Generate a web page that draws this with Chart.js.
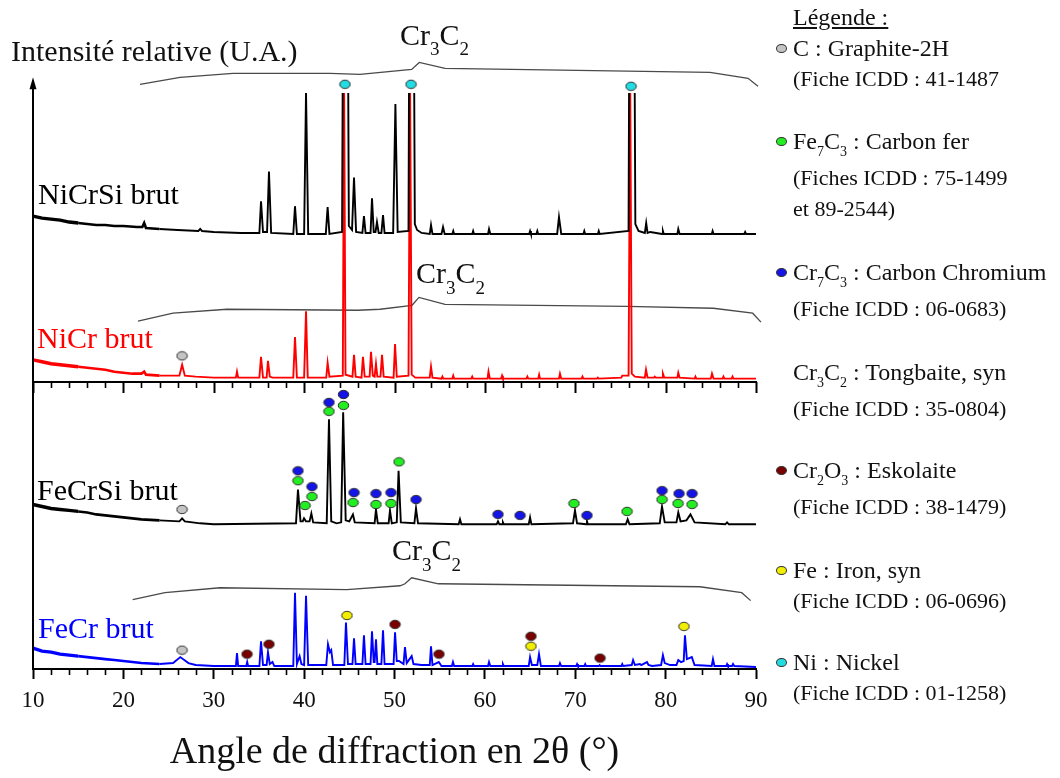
<!DOCTYPE html>
<html>
<head>
<meta charset="utf-8">
<script src="https://cdn.jsdelivr.net/npm/chart.js@4.4.1/dist/chart.umd.min.js"></script>
<style>
body{margin:0;background:#fff;}
#wrap{position:relative;width:1060px;height:778px;overflow:hidden;}
#legend{position:absolute;left:0;top:0;width:1060px;height:778px;pointer-events:none;font-family:"Liberation Serif",serif;color:#111;}
#legend .line{position:absolute;left:793px;white-space:nowrap;}
#legend sub{font-size:14px;vertical-align:-7px;line-height:0;}
#legend .dot{position:absolute;left:776px;width:9px;height:7px;border:1px solid #333;border-radius:50%;}
</style>
</head>
<body>
<div id="wrap">
<canvas id="xrd" width="1060" height="778"></canvas>
<div id="legend"></div>
</div>
<script>
// 2θ axis ticks
const majorTicks = [10, 20, 30, 40, 50, 60, 70, 80, 90];
const minorTicks = [12, 14, 16, 18, 22, 24, 26, 28, 32, 34, 36, 38, 42, 44, 46, 48, 52, 54, 56, 58,
                    62, 64, 66, 68, 72, 74, 76, 78, 82, 84, 86, 88];

// spectra: [2θ, intensity above own baseline] (U.A.)
const niCrSi = [[10,18],[11,16],[12,15],[13,14],[14,12],[15,11],[16,10],[17,9],[18,9],[19,8],[20,8],[21.5,7],[22.1,7],[22.3,11],[22.5,6],[24,5],[26,4],[28.3,3],[28.5,5],[28.7,3],[30,2],[33,1],
  [35.05,1],[35.23,33],[35.45,2],[35.9,2],[36.11,63],[36.35,1],
  [38.8,0],[38.99,28],[39.2,0],[40.0,0],[40.21,143],[40.45,0],
  [42.4,0],[42.6,27],[42.8,0],
  [44.2,2],[44.38,400],[44.75,400],[44.95,8],   // clipped in the figure
  [45.3,4],[45.52,57],[45.75,2],[46.45,1],[46.62,18],[46.8,1],
  [47.35,1],[47.51,36],[47.7,2],[47.9,2],[48.06,12],[48.25,1],[48.55,1],[48.73,19],[48.9,1],
  [49.85,1],[50.1,131],[50.35,2],
  [51.55,3],[51.7,400],[52.05,400],[52.25,10],[52.5,4],[53,1],   // clipped
  [53.9,0],[54.04,9],[54.2,0],[55.2,0],[55.37,7],[55.55,0],[56.4,0],[56.5,3],[56.6,0],
  [58.6,0],[58.7,3],[58.8,0],[60.35,0],[60.46,5],[60.6,0],
  [64.9,0],[65.0,3],[65.1,0],[65.7,0],[65.8,3],[65.9,0],[68.0,0],[68.2,17],[68.45,0],
  [70.9,0],[71.0,3],[71.1,0],[72.5,0],[72.6,3],[72.7,0],
  [75.9,3],[76.05,400],[76.45,400],[76.65,10],[77.0,3],   // clipped
  [77.7,1],[77.85,11],[78.0,1],[78.3,2],[79.6,0],[79.7,3],[79.8,0],[81.3,0],[81.4,5],[81.55,0],
  [85.1,0],[85.2,3],[85.3,0],[88.7,0],[88.8,2],[88.9,0],[90,0]];

const niCr = [[10,19],[11,17],[12,15],[13,14],[14,13],[15,12],[16,11],[17,10],[18,9],[19,7],[20,6],[21,5],[22,5],[22.3,7],[22.5,4],[24,3],[26.2,3],[26.5,14],[26.8,3],[28,2],[30,1],
  [32.45,1],[32.57,7],[32.7,1],
  [35.05,1],[35.23,22],[35.45,1],[35.85,1],[36.0,18],[36.2,2],[36.5,1],
  [38.8,1],[38.99,42],[39.2,1],[40.0,1],[40.21,68],[40.4,1],
  [42.45,1],[42.6,16],[42.8,2],
  [44.28,3],[44.42,300],[44.58,4],
  [45.35,2],[45.52,24],[45.7,2],[46.35,1],[46.51,22],[46.7,2],
  [47.25,2],[47.4,27],[47.6,3],[47.8,2],[47.95,15],[48.1,2],[48.45,2],[48.62,24],[48.8,2],
  [49.9,1],[50.06,35],[50.25,2],
  [51.55,3],[51.72,300],[51.9,4],[52.3,1],
  [53.9,1],[54.04,12],[54.2,1],[55.2,0],[55.3,2],[55.4,0],[56.4,0],[56.5,3],[56.6,0],
  [58.5,0],[58.6,2],[58.7,0],[60.3,0],[60.4,7],[60.55,0],[61.8,0],[61.9,3],[62.0,0],
  [64.6,0],[64.7,2],[64.8,0],[65.9,0],[66.0,4],[66.1,0],[68.2,0],[68.31,5],[68.45,0],
  [70.7,0],[70.8,2],[70.9,0],[72.4,0],[72.5,1],[72.6,0],
  [75.1,1],[75.2,3],[75.9,3],[76.08,300],[76.25,5],[76.6,2],
  [77.7,1],[77.83,9],[78.0,1],[78.7,1],[78.8,2],[78.9,1],[79.6,1],[79.7,5],[79.85,1],[81.3,1],[81.4,6],[81.55,1],
  [83.2,0],[83.3,2],[83.4,0],[85.0,0],[85.13,5],[85.3,0],[86.3,0],[86.4,2],[86.5,0],[87.3,0],[87.4,2],[87.5,0],[90,0]];

const feCrSi = [[10,20],[11,18],[12,16],[13,15],[14,14],[15,13],[16,12],[17,10],[18,9],[19,8],[20,7],[21,6],[22,5],[24,4],[26.2,3],[26.5,6],[26.8,3],[28.5,1],[30,0],
  [39.1,1],[39.32,35],[39.6,3],[39.85,3],[39.99,6],[40.2,3],[40.6,3],[40.8,11],[41.0,2],
  [42.5,1],[42.75,106],[43.0,3],[43.6,1],
  [44.1,2],[44.32,113],[44.6,4],[45.0,3],[45.4,10],[45.6,2],
  [47.8,1],[47.95,15],[48.15,1],[49.35,1],[49.5,14],[49.7,1],
  [50.25,2],[50.45,54],[50.7,2],[52.2,1],[52.38,16],[52.6,1],
  [57.1,0],[57.25,5],[57.4,0],[61.3,0],[61.45,3],[61.6,0],[61.9,0],[62.0,2],[62.1,0],
  [64.85,0],[65.0,7],[65.15,0],[69.75,1],[69.97,14],[70.2,1],[71.2,0],[71.3,3],[71.4,0],
  [75.6,0],[75.8,5],[76.0,0],
  [79.35,1],[79.6,18],[79.9,2],[81.2,2],[81.4,12],[81.65,3],[82.3,4],[82.75,10],[83.2,2],
  [86.6,0],[86.8,2],[87.0,0],[90,0]];

const feCr = [[10,19],[11,16],[12,15],[13,13],[14,12],[15,11],[16,10],[17,9],[18,8],[19,7],[20,6],[21,5],[22,4],[24,3],[25.5,4],[26.3,10],[27.2,4],[28,2],[30,1],
  [32.45,1],[32.57,14],[32.7,1],[33.6,1],[33.7,5],[33.8,1],
  [35.05,1],[35.23,26],[35.45,2],[35.85,2],[36.0,15],[36.2,3],[36.5,5],[36.7,1],
  [38.8,1],[38.99,75],[39.2,3],[39.5,11],[39.7,3],[40.0,2],[40.21,72],[40.45,2],
  [42.45,2],[42.64,23],[42.85,15],[43.0,17],[43.2,2],
  [44.45,2],[44.63,45],[44.85,3],[45.35,3],[45.52,29],[45.7,3],[46.45,3],[46.62,32],[46.8,3],
  [47.35,3],[47.51,36],[47.7,5],[47.8,5],[47.95,28],[48.1,3],[48.55,3],[48.73,37],[48.9,3],
  [49.9,3],[50.06,35],[50.25,6],[50.5,6],[51.0,3],[51.16,20],[51.35,4],[51.9,11],[52.1,3],[53,2],
  [53.9,2],[54.04,21],[54.2,2],[54.9,5],[55.2,1],
  [56.35,1],[56.47,5],[56.6,1],[58.6,1],[58.7,3],[58.8,1],[60.35,1],[60.46,5],[60.6,1],[61.9,1],[62.0,3],[62.1,1],
  [64.85,1],[65.0,10],[65.2,2],[65.8,2],[65.99,13],[66.2,1],
  [68.2,1],[68.31,4],[68.45,1],[70.1,1],[70.2,3],[70.3,1],[71.0,1],[71.1,3],[71.2,1],[72.6,1],[72.7,2],[72.8,1],
  [75.1,1],[75.2,3],[75.3,1],[76.25,2],[76.4,7],[76.6,2],[77.16,3],[77.3,2],[77.94,5],[78.1,2],[78.5,1],
  [79.5,2],[79.7,12],[79.9,4],[80.5,2],[81.2,2],[81.4,7],[81.7,5],[82.0,6],[82.14,32],[82.35,8],[82.9,10],[83.2,2],
  [85.1,1],[85.24,8],[85.4,1],[86.7,1],[86.8,3],[86.9,1],[87.35,1],[87.46,3],[87.6,1],[90,0]];

const seriesNames = ['NiCrSi brut', 'NiCr brut', 'FeCrSi brut', 'FeCr brut'];
const seriesColors = ['#000000', '#ff0000', '#000000', '#0000ff'];
const offsets = [439, 293, 146, 2];

// phase markers [2θ, U.A.]
const graphiteMarks = [[26.49,316],[26.49,161],[26.49,19]];
const fe7c3Marks = [[39.32,190],[40.1,165],[40.87,174],[42.75,260],[44.35,266],[45.41,168],[47.95,166],[49.61,167],
  [50.5,209],[69.86,167],[75.73,159],[79.6,171],[81.37,167],[82.92,166]];
const cr7c3Marks = [[39.32,200],[40.87,184],[42.75,269],[44.35,277],[45.52,178],[47.95,177],[49.61,178],[52.38,171],
  [61.45,156],[63.89,155],[71.3,155],[79.6,180],[81.48,177],[82.92,177]];
const cr2o3Marks = [[33.68,15],[36.11,25],[50.06,45],[54.92,15],[65.1,33],[72.74,11]];
const feMarks = [[44.74,54],[65.1,23],[82.03,43]];
const niMarks = [[44.52,590],[51.83,590],[76.17,588]];

// Cr3C2 reference outlines [2θ, U.A.]
const cr3c2Top = [[21.84,590],[26.27,597],[32.13,601],[42.86,601],[46.18,600],[51.9,605],[52.74,612],[55.59,606],[84.91,602],[89.12,596],[90.22,588]];
const cr3c2NiCr = [[21.62,351],[25.49,359],[31.47,363],[45.96,362],[48.4,363],[51.94,367],[52.71,375],[55.59,368],[75.73,366],[85.28,364],[89.63,359],[90.55,350]];
const cr3c2FeCr = [[21.03,70],[24.6,77],[30.69,82],[44.71,80],[50.61,84],[51.16,86],[51.9,92],[54.85,86],[83.8,83],[88.42,77],[89.41,69]];
const cr3c2Labels = [[50.6,630],[52.38,389],[49.72,110]];
const seriesLabelPos = [[10.55,469],[10.44,324],[10.44,171],[10.55,31]];

// legend
const phaseNames = ['C : Graphite-2H', 'Fe<sub>7</sub>C<sub>3</sub> : Carbon fer', 'Cr<sub>7</sub>C<sub>3</sub> : Carbon Chromium',
  'Cr<sub>3</sub>C<sub>2</sub> : Tongbaite, syn', 'Cr<sub>2</sub>O<sub>3</sub> : Eskolaite', 'Fe : Iron, syn', 'Ni : Nickel'];
const phaseCards = [['(Fiche ICDD : 41-1487'], ['(Fiches ICDD : 75-1499', 'et 89-2544)'], ['(Fiche ICDD : 06-0683)'],
  ['(Fiche ICDD : 35-0804)'], ['(Fiche ICDD : 38-1479)'], ['(Fiche ICDD : 06-0696)'], ['(Fiche ICDD : 01-1258)']];
const phaseColors = ['#c4c4c4', '#22ee22', '#1414e6', null, '#7a0000', '#f2ee00', '#22dce2'];
const legendBase = [56, 149, 280, 380, 478, 578, 670];

const FONT = '"Liberation Serif", "Times New Roman", serif';

function ellipseIcon(color){
    let c = document.createElement('canvas');
    c.width = 13; c.height = 11;
    let g = c.getContext('2d');
    g.beginPath();
    g.ellipse(6.5, 5.5, 5.2, 4.2, 0, 0, 2 * Math.PI);
    g.fillStyle = color;
    g.fill();
    g.strokeStyle = '#2a2a2a';
    g.lineWidth = 1;
    g.stroke();
    return c;
}

function toPoints(arr, off){
    return arr.map(p => ({x: p[0], y: p[1] + (off || 0)}));
}

function markerSet(arr, color){
    return {
        type: 'scatter',
        data: toPoints(arr),
        showLine: false,
        pointStyle: ellipseIcon(color),
        pointRadius: 5,
        order: 0,
        clip: false
    };
}

function outlineSet(arr){
    return {
        data: toPoints(arr),
        borderColor: '#4a4a4a',
        borderWidth: 1.3,
        pointRadius: 0,
        tension: 0,
        order: 6,
        clip: false
    };
}

// draws a chemical formula with subscripts, parts = [text, isSub]
function drawChem(ctx, parts, x, y, size, color){
    ctx.fillStyle = color;
    ctx.textBaseline = 'alphabetic';
    ctx.textAlign = 'left';
    parts.forEach(p => {
        let fs = p[1] ? Math.round(size * 0.62) : size;
        ctx.font = fs + 'px ' + FONT;
        ctx.fillText(p[0], x, y + (p[1] ? size * 0.36 : 0));
        x += ctx.measureText(p[0]).width;
    });
}

const decorPlugin = {
    id: 'decor',
    afterDraw(chart){
        const ctx = chart.ctx;
        const xs = chart.scales.x, ys = chart.scales.y, area = chart.chartArea;
        ctx.save();
        ctx.strokeStyle = '#000';
        ctx.fillStyle = '#000';
        ctx.lineWidth = 2;

        // vertical axis with arrow
        let tip = ys.getPixelForValue(597), base = ys.getPixelForValue(586);
        ctx.beginPath();
        ctx.moveTo(area.left, area.bottom);
        ctx.lineTo(area.left, base);
        ctx.stroke();
        ctx.beginPath();
        ctx.moveTo(area.left, tip);
        ctx.lineTo(area.left - 3.5, base + 1);
        ctx.lineTo(area.left + 3.5, base + 1);
        ctx.closePath();
        ctx.fill();

        // minor ticks of the bottom axis
        ctx.lineWidth = 1.6;
        minorTicks.forEach(v => {
            let px = Math.round(xs.getPixelForValue(v)) + 0.5;
            ctx.beginPath();
            ctx.moveTo(px, area.bottom);
            ctx.lineTo(px, area.bottom + 6);
            ctx.stroke();
        });

        // middle axis between the two groups
        let my = Math.round(ys.getPixelForValue(290));
        ctx.lineWidth = 2;
        ctx.beginPath();
        ctx.moveTo(area.left, my);
        ctx.lineTo(xs.getPixelForValue(90) + 1, my);
        ctx.stroke();
        majorTicks.concat(minorTicks).forEach(v => {
            let px = Math.round(xs.getPixelForValue(v)) + 0.5;
            let len = majorTicks.includes(v) ? 11 : 6;
            ctx.lineWidth = majorTicks.includes(v) ? 2 : 1.6;
            ctx.beginPath();
            ctx.moveTo(px, my);
            ctx.lineTo(px, my + len);
            ctx.stroke();
        });

        // y title
        ctx.font = '30px ' + FONT;
        ctx.textAlign = 'left';
        ctx.textBaseline = 'alphabetic';
        ctx.fillStyle = '#111';
        ctx.fillText('Intensité relative (U.A.)', area.left - 22, ys.getPixelForValue(614));

        // sample names
        seriesNames.forEach((name, i) => {
            ctx.fillStyle = seriesColors[i];
            ctx.font = '30px ' + FONT;
            ctx.fillText(name, xs.getPixelForValue(seriesLabelPos[i][0]), ys.getPixelForValue(seriesLabelPos[i][1]));
        });

        // Cr3C2 labels
        cr3c2Labels.forEach(p => {
            drawChem(ctx, [['Cr', 0], ['3', 1], ['C', 0], ['2', 1]],
                xs.getPixelForValue(p[0]), ys.getPixelForValue(p[1]), 30, '#111');
        });
        ctx.restore();
    }
};

// noisy low-angle background drawn a bit thicker
function segWidth(c){
    let x = c.p0.parsed.x;
    if(x < 15) return 3.4;
    if(x < 24) return 2.6;
    return 1.9;
}

const spectra = [niCrSi, niCr, feCrSi, feCr];
const datasets = [
    markerSet(graphiteMarks, phaseColors[0]),
    markerSet(fe7c3Marks, phaseColors[1]),
    markerSet(cr7c3Marks, phaseColors[2]),
    markerSet(cr2o3Marks, phaseColors[4]),
    markerSet(feMarks, phaseColors[5]),
    markerSet(niMarks, phaseColors[6])
];
spectra.forEach((s, i) => {
    datasets.push({
        label: seriesNames[i],
        data: toPoints(s, offsets[i]),
        borderColor: seriesColors[i],
        borderWidth: 1.9,
        segment: {borderWidth: segWidth},
        pointRadius: 0,
        tension: 0,
        order: i + 1,
        clip: i < 2 ? {left: 2, top: -87, right: 2, bottom: 2} : 2
    });
});
datasets.push(outlineSet(cr3c2Top), outlineSet(cr3c2NiCr), outlineSet(cr3c2FeCr));

new Chart(document.getElementById('xrd'), {
    type: 'line',
    data: {datasets: datasets},
    options: {
        responsive: false,
        animation: false,
        events: [],
        layout: {padding: {left: 33, right: 304, top: 0, bottom: 0}},
        plugins: {legend: {display: false}, tooltip: {enabled: false}},
        scales: {
            x: {
                type: 'linear',
                min: 10,
                max: 90,
                afterBuildTicks: scale => { scale.ticks = majorTicks.map(v => ({value: v})); },
                afterFit: scale => { scale.height = 109; },
                border: {display: true, color: '#000', width: 2},
                grid: {drawOnChartArea: false, drawTicks: true, tickLength: 10, tickWidth: 2, tickColor: '#000'},
                ticks: {color: '#111', padding: 8, font: {family: FONT, size: 23}, maxRotation: 0},
                title: {display: true, text: 'Angle de diffraction en 2θ (°)', color: '#111',
                        font: {family: FONT, size: 38}, padding: {top: 0, bottom: 2}}
            },
            y: {type: 'linear', display: false, min: 0, max: 669}
        }
    },
    plugins: [decorPlugin]
});

// legend on the right
const legend = document.getElementById('legend');
function addLine(html, baseline, size, color){
    let d = document.createElement('div');
    d.className = 'line';
    d.style.fontSize = size + 'px';
    d.style.lineHeight = size + 'px';
    d.style.top = (baseline - Math.round(size * 0.84)) + 'px';
    d.innerHTML = html;
    legend.appendChild(d);
    if(color){
        let dot = document.createElement('span');
        dot.className = 'dot';
        dot.style.background = color;
        dot.style.top = (baseline - 12) + 'px';
        legend.appendChild(dot);
    }
}
let title = document.createElement('div');
title.className = 'line';
title.style.cssText = 'font-size:24px;line-height:24px;top:5px;text-decoration:underline;';
title.textContent = 'Légende :';
legend.appendChild(title);
phaseNames.forEach((name, i) => {
    addLine(name, legendBase[i], 24, phaseColors[i]);
    let y = legendBase[i] + (name.includes('<sub>') ? 36 : 30);
    phaseCards[i].forEach(card => {
        addLine(card, y, 22);
        y += 31;
    });
});
</script>
</body>
</html>
